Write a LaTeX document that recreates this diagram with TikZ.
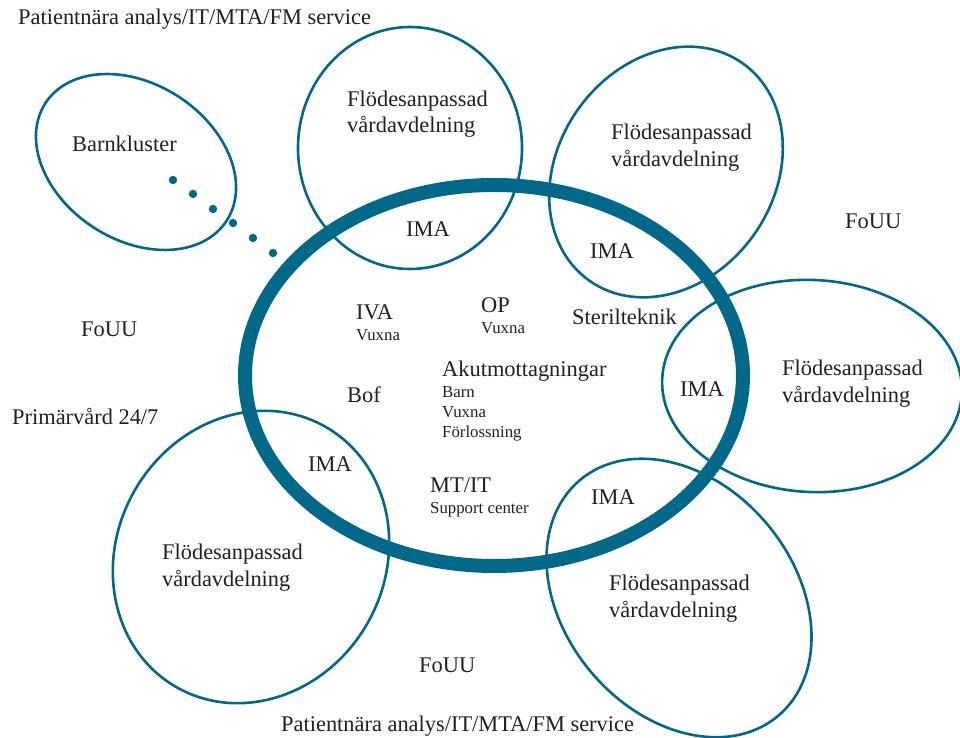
\documentclass[tikz,border=0pt]{standalone}
\usepackage{fontspec}
\setmainfont{Liberation Serif}
\definecolor{teal}{RGB}{0,105,138}
\definecolor{ink}{RGB}{35,31,32}
\begin{document}
\begin{tikzpicture}[x=1pt,y=1pt,
  unit/.style={draw=teal,line width=2.6pt},
  ring/.style={draw=teal,line width=14pt},
  big/.style={anchor=base west,inner sep=0pt,text=ink,font=\fontsize{22.4}{26}\selectfont},
  small/.style={anchor=base west,inner sep=0pt,text=ink,font=\fontsize{16.8}{19}\selectfont}]
\useasboundingbox (0,0) rectangle (960,738);

% satellite wards and the children's cluster
\draw[unit] (136,576) ellipse [x radius=108,y radius=78,rotate=-33];
\draw[unit] (410,590) ellipse [x radius=112,y radius=121];
\draw[unit] (666,566) ellipse [x radius=133,y radius=108,rotate=55];
\draw[unit] (812,352) ellipse [x radius=150,y radius=106,rotate=-3];
\draw[unit] (679,140) ellipse [x radius=154,y radius=115,rotate=-50];
\draw[unit] (251,181) ellipse [x radius=150,y radius=134,rotate=60];

% central hospital core
\draw[ring] (494,362.5) ellipse [x radius=249,y radius=190.5];

% dotted link from the children's cluster
\foreach \px/\py in {173/558,193/544,213/529,233/515,253/500,273/485}
  \fill[teal] (\px,\py) circle (4.2);

% outer labels
\node[big] (svcTop) at (18,713) {Patientnära analys/IT/MTA/FM service};
\node[big] (svcBot) at (281,6) {Patientnära analys/IT/MTA/FM service};
\node[big] (barn) at (72,586) {Barnkluster};
\node[big] (fouL) at (81,401) {FoUU};
\node[big] (fouR) at (845,509) {FoUU};
\node[big] (fouB) at (419,65) {FoUU};
\node[big] (prim) at (12,313) {Primärvård 24/7};

% ward labels
\node[big] (w1a) at (347,631) {Flödesanpassad};
\node[big] (w1b) at (347,605) {vårdavdelning};
\node[big] (w2a) at (611,598) {Flödesanpassad};
\node[big] (w2b) at (611,571) {vårdavdelning};
\node[big] (w3a) at (782,362) {Flödesanpassad};
\node[big] (w3b) at (782,335) {vårdavdelning};
\node[big] (w4a) at (609,147) {Flödesanpassad};
\node[big] (w4b) at (609,120) {vårdavdelning};
\node[big] (w5a) at (162,178) {Flödesanpassad};
\node[big] (w5b) at (162,151) {vårdavdelning};

% IMA overlaps
\node[big] (ima1) at (406,501) {IMA};
\node[big] (ima2) at (590,479) {IMA};
\node[big] (ima3) at (680,341) {IMA};
\node[big] (ima4) at (591,233) {IMA};
\node[big] (ima5) at (308,266) {IMA};

% inside the core
\node[big] (iva) at (356,418) {IVA};
\node[small] (ivaV) at (356,397) {Vuxna};
\node[big] (op) at (481,425) {OP};
\node[small] (opV) at (481,404) {Vuxna};
\node[big] (steril) at (572,413) {Sterilteknik};
\node[big] (akut) at (442,361) {Akutmottagningar};
\node[small] (akB) at (442,340) {Barn};
\node[small] (akV) at (442,320) {Vuxna};
\node[small] (akF) at (442,300) {Förlossning};
\node[big] (bof) at (347,335) {Bof};
\node[big] (mtit) at (430,245) {MT/IT};
\node[small] (supp) at (430,224) {Support center};
\end{tikzpicture}
\end{document}
